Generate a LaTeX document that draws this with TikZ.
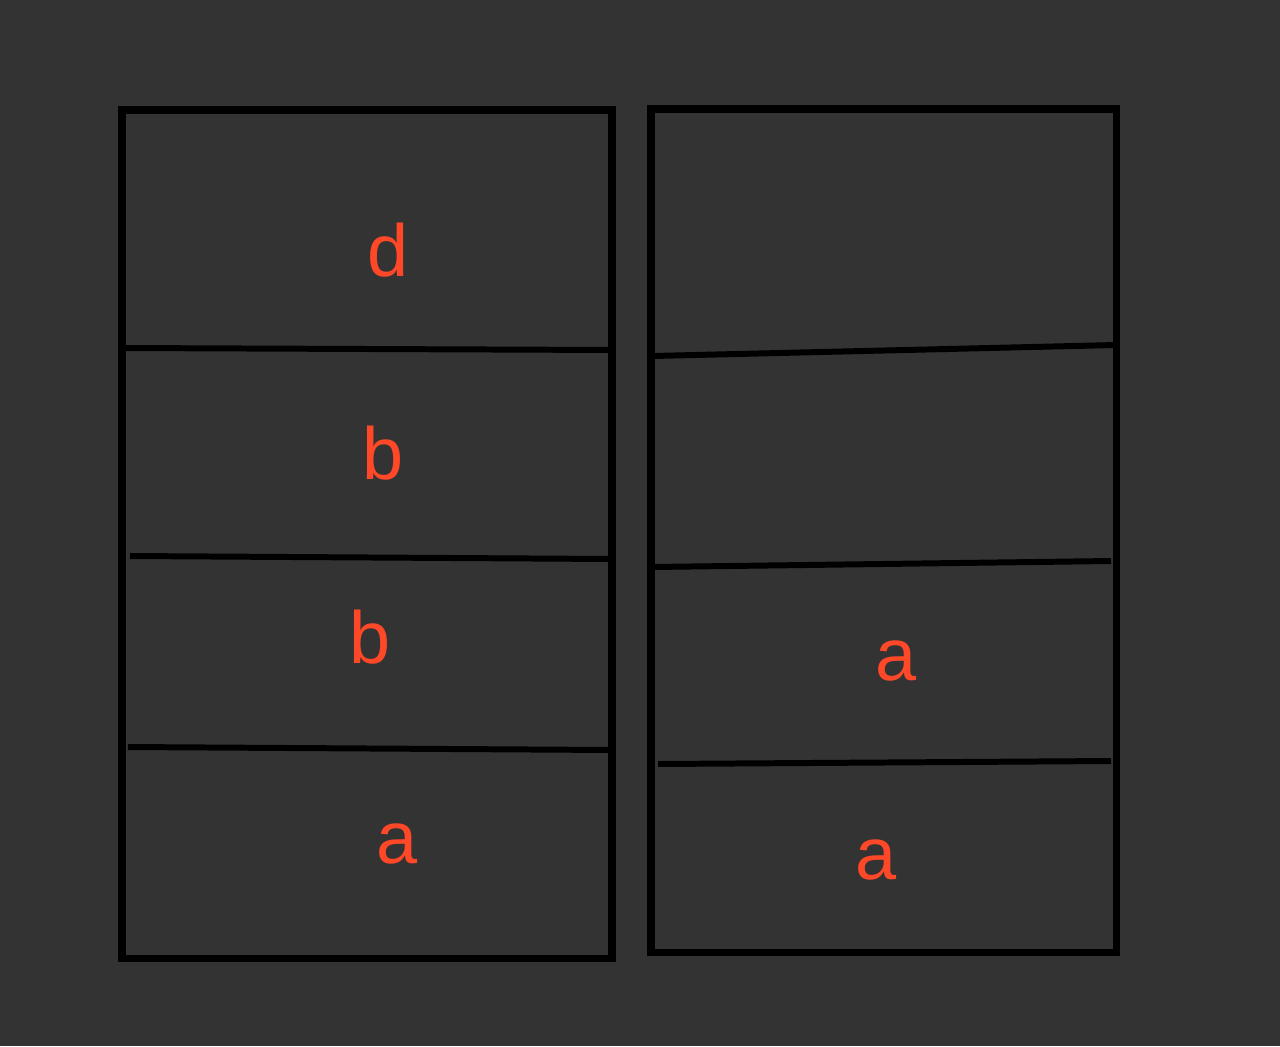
\documentclass[tikz,border=0pt]{standalone}
\usepackage{fontspec}
\setmainfont{Liberation Sans}
\usepackage{tikz}

\definecolor{bgcol}{RGB}{51,51,51}
\definecolor{lettercol}{RGB}{255,72,40}

\begin{document}
\begin{tikzpicture}[x=0.01cm, y=-0.01cm]
        \fill[bgcol] (0,0) rectangle (1280,1046);
        \useasboundingbox (0,0) rectangle (1280,1046);

        % outer boxes
        \draw[black, line width=2pt] (122,110) rectangle (612,958);
        \draw[black, line width=2pt] (651,109) rectangle (1116,952);

        \begin{scope}[every path/.style={draw=black, line width=1.7pt}]
            \path (122,348) -- (612,350);
            \path (130,556) -- (612,559);
            \path (128,747) -- (612,750);

            \path (653,356) -- (1116,345);
            \path (653,567) -- (1111,561);
            \path (658,764) -- (1111,761);
        \end{scope}

        \begin{scope}[every node/.style={text=lettercol, font=\fontsize{21pt}{25pt}\selectfont, inner sep=0pt}]
            \node (L1) at (388,250) {d};
            \node (L2) at (383,453) {b};
            \node (L3) at (370,637) {b};
            \node (L4) at (397,844) {a};

            \node (R3) at (896,661) {a};
            \node (R4) at (876,860) {a};
        \end{scope}
    \end{tikzpicture}
\end{document}
